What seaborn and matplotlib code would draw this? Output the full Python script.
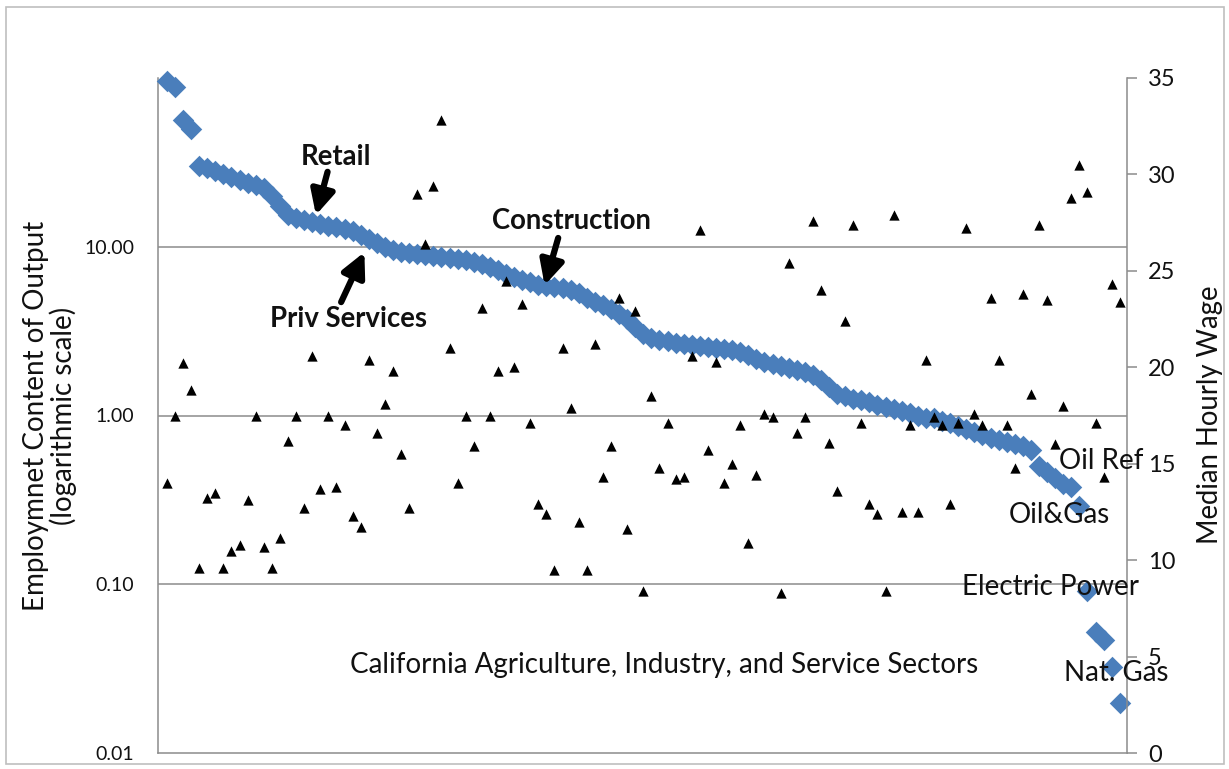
import matplotlib
matplotlib.use("Agg")
import matplotlib.pyplot as plt
from matplotlib.patches import Rectangle
import numpy as np
import pandas as pd
import seaborn as sns

# Employment content of output (jobs per unit output), sectors sorted high to low
employment_content = [
    96.0, 88.3, 56.1, 49.6, 30.3, 29.4, 28.2, 27.1, 26.0, 24.9,
    23.9, 23.3, 22.3, 20.0, 17.5, 15.4, 14.8, 14.4, 14.0, 13.6,
    13.3, 13.1, 12.7, 12.4, 11.7, 11.1, 10.5, 9.93, 9.53, 9.27,
    9.14, 9.02, 8.90, 8.78, 8.66, 8.54, 8.42, 8.31, 8.08, 7.86,
    7.55, 7.24, 6.85, 6.58, 6.31, 6.14, 5.97, 5.89, 5.81, 5.73,
    5.57, 5.35, 5.00, 4.73, 4.54, 4.30, 4.01, 3.74, 3.35, 3.05,
    2.88, 2.81, 2.77, 2.69, 2.65, 2.62, 2.58, 2.55, 2.51, 2.48,
    2.44, 2.38, 2.28, 2.16, 2.07, 2.02, 1.96, 1.91, 1.86, 1.81,
    1.73, 1.62, 1.47, 1.35, 1.30, 1.26, 1.23, 1.20, 1.15, 1.12,
    1.09, 1.06, 1.03, 1.00, 0.973, 0.960, 0.934, 0.908, 0.871, 0.836,
    0.802, 0.770, 0.739, 0.719, 0.699, 0.680, 0.662, 0.627, 0.503, 0.463,
    0.427, 0.393, 0.377, 0.290, 0.0915, 0.052, 0.0466, 0.0322, 0.0199,
]

# Median hourly wage ($) for the same sectors
median_wage = [
    14.0, 17.5, 20.2, 18.8, 9.6, 13.2, 13.5, 9.6, 10.45, 10.8,
    13.1, 17.5, 10.7, 9.6, 11.15, 16.2, 17.5, 12.7, 20.6, 13.7,
    17.5, 13.8, 17.0, 12.3, 11.7, 20.4, 16.6, 18.1, 19.8, 15.5,
    12.7, 29.0, 26.4, 29.4, 32.8, 21.0, 14.0, 17.5, 15.9, 23.1,
    17.5, 19.8, 24.5, 20.0, 23.3, 17.1, 12.9, 12.4, 9.5, 21.0,
    17.9, 12.0, 9.5, 21.2, 14.3, 15.9, 23.6, 11.6, 22.9, 8.4,
    18.5, 14.8, 17.1, 14.2, 14.3, 20.6, 27.1, 15.7, 20.3, 14.0,
    15.0, 17.0, 10.9, 14.4, 17.6, 17.4, 8.3, 25.4, 16.6, 17.4,
    27.6, 24.0, 16.1, 13.6, 22.4, 27.4, 17.1, 12.9, 12.4, 8.4,
    27.9, 12.5, 17.0, 12.5, 20.4, 17.4, 17.0, 12.9, 17.1, 27.2,
    17.6, 17.0, 23.6, 20.4, 17.0, 14.8, 23.8, 18.6, 27.4, 23.5,
    16.0, 18.0, 28.8, 30.5, 29.1, 17.1, 14.3, 24.3, 23.4,
]

left_ticks = [0.01, 0.1, 1, 10]
left_tick_labels = ["0.01", "0.10", "1.00", "10.00"]
right_ticks = [0, 5, 10, 15, 20, 25, 30, 35]

df = pd.DataFrame({
    "sector": np.arange(1, len(employment_content) + 1),
    "employment": employment_content,
    "wage": median_wage,
})

sns.set_theme(style="white")
plt.rcParams["font.family"] = ["Lato", "DejaVu Sans"]

W, H = 1229, 769
fig = plt.figure(figsize=(W / 100, H / 100), dpi=100)
fig.patch.set_facecolor("white")
ax = fig.add_axes([158 / W, 1 - 753 / H, 969 / W, 675 / H])

BLUE = "#4a7ebb"
GRID = "#8c8c8c"
INK = "#111111"

sns.scatterplot(data=df, x="sector", y="employment", marker="D", s=120,
                color=BLUE, linewidth=0, ax=ax, zorder=3, legend=False,
                clip_on=False)
ax.set_yscale("log")
ax.set_ylim(0.01, 100)
ax.set_xlim(-0.1, 119.9)
ax.set_yticks(left_ticks)
ax.set_yticklabels(left_tick_labels)
ax.minorticks_off()
ax.set_xticks([])
ax.set_xlabel("")
ax.set_ylabel("")
ax.tick_params(axis="y", length=0, pad=17, labelsize=14, colors=INK)
for v in [0.1, 1, 10]:
    ax.axhline(v, color=GRID, lw=1.1, zorder=1)
for side in ["left", "bottom"]:
    ax.spines[side].set_color(GRID)
    ax.spines[side].set_linewidth(1.1)
ax.spines["top"].set_visible(False)
ax.spines["right"].set_visible(False)

ax2 = ax.twinx()
sns.scatterplot(data=df, x="sector", y="wage", marker="^", s=55,
                color="black", linewidth=0, ax=ax2, zorder=4, legend=False)
ax2.set_ylim(0, 35)
ax2.set_yticks(right_ticks)
ax2.set_ylabel("")
ax2.tick_params(axis="y", length=7, width=1.1, color=GRID, pad=8,
                labelsize=17, colors=INK)
ax2.tick_params(axis="y", color=GRID)
for side in ["left", "bottom", "top"]:
    ax2.spines[side].set_visible(False)
ax2.spines["right"].set_color(GRID)
ax2.spines["right"].set_linewidth(1.1)

# Axis titles
fig.text(50 / W, 1 - 416 / H, "Employmnet Content of Output\n(logarithmic scale)",
         rotation=90, ha="center", va="center", multialignment="center",
         fontsize=20, color=INK, linespacing=1.05)
fig.text(1210 / W, 1 - 415 / H, "Median Hourly Wage", rotation=90,
         ha="center", va="center", fontsize=19.8, color=INK)

# Sector labels
plain = dict(transform=ax2.transAxes, ha="center", va="center", fontsize=20,
             color=INK, zorder=6, clip_on=False)
ax2.text(0.522, 0.130, "California Agriculture, Industry, and Service Sectors", **plain)
ax2.text(0.973, 0.433, "Oil Ref", **plain)
ax2.text(0.930, 0.353, "Oil&Gas", **plain)
ax2.text(0.921, 0.246, "Electric Power", **plain)
ax2.text(0.989, 0.119, "Nat. Gas", **plain)

# Bold callouts with arrows
arrow = dict(arrowstyle="-|>,head_length=0.9,head_width=0.45", lw=4.5,
             color="black", mutation_scale=16, shrinkA=0, shrinkB=0)
callout = dict(transform=ax2.transAxes, ha="center", va="center",
               fontsize=19.8, fontweight="bold", color=INK, zorder=6)
ax2.annotate("", xy=(0.163, 0.797), xytext=(0.175, 0.861), arrowprops=arrow,
             xycoords="axes fraction", textcoords="axes fraction")
ax2.text(0.184, 0.883, "Retail", **callout)
ax2.annotate("", xy=(0.213, 0.742), xytext=(0.189, 0.668), arrowprops=arrow,
             xycoords="axes fraction", textcoords="axes fraction")
ax2.text(0.197, 0.643, "Priv Services", **callout)
ax2.annotate("", xy=(0.399, 0.693), xytext=(0.413, 0.763), arrowprops=arrow,
             xycoords="axes fraction", textcoords="axes fraction")
ax2.text(0.427, 0.788, "Construction", **callout)

# Chart-area frame
fig.patches.append(Rectangle((6 / W, 1 - 764 / H), 1218 / W, 757 / H,
                             transform=fig.transFigure, fill=False,
                             edgecolor="#bfbfbf", lw=1.2))

fig.savefig("out.png", dpi=100)
